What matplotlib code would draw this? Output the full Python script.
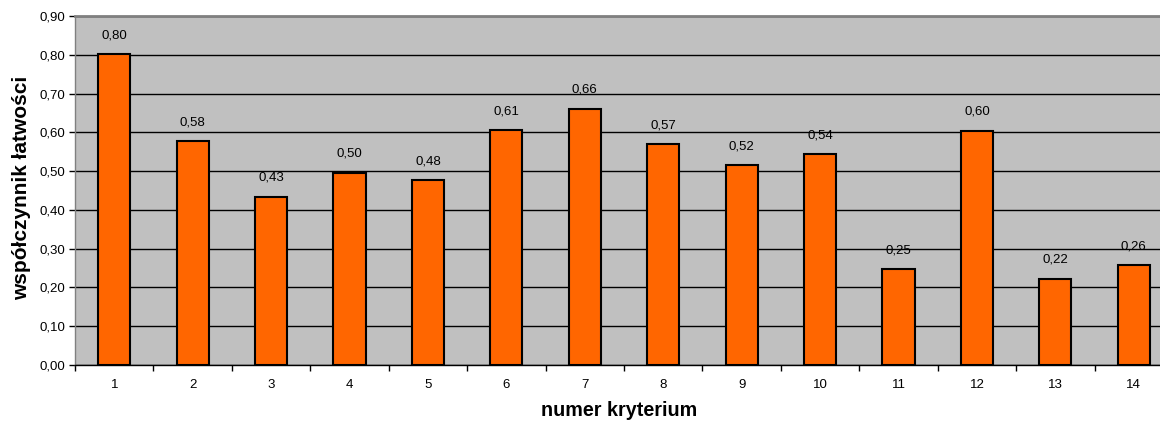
import matplotlib
matplotlib.use("Agg")
import matplotlib.pyplot as plt
from matplotlib.ticker import MultipleLocator, FixedLocator

plt.rcParams['font.family'] = ['Liberation Sans', 'DejaVu Sans']

categories = [str(i) for i in range(1, 15)]
values = [0.802, 0.577, 0.434, 0.496, 0.476, 0.606, 0.661, 0.569, 0.516, 0.544, 0.247, 0.604, 0.223, 0.258]
labels = ["0,80", "0,58", "0,43", "0,50", "0,48", "0,61", "0,66", "0,57", "0,52", "0,54", "0,25", "0,60", "0,22", "0,26"]

W, H = 1160, 421
fig = plt.figure(figsize=(W / 100, H / 100), dpi=100)
left, right, top, bottom = 75, 1173, 16, 365
ax = fig.add_axes([left / W, (H - bottom) / H, (right - left) / W, (bottom - top) / H])
ax.set_facecolor('#C0C0C0')

x = list(range(len(categories)))
bars = ax.bar(x, values, width=0.41, color='#FF6600', edgecolor='black', linewidth=1.5, zorder=3)
for xi, v, lab in zip(x, values, labels):
    ax.text(xi, v + 0.033, lab, ha='center', va='bottom', fontsize=9.5, zorder=4)

ax.set_xlim(-0.5, len(categories) - 0.5)
ax.set_ylim(0, 0.9)
ax.yaxis.set_major_locator(MultipleLocator(0.1))
ax.set_yticklabels([f"{t:.2f}".replace('.', ',') for t in ax.get_yticks()])
ax.set_xticks(x)
ax.set_xticklabels(categories)
ax.xaxis.set_minor_locator(FixedLocator([i + 0.5 for i in range(-1, len(categories))]))
ax.tick_params(axis='x', which='major', length=0, pad=10, labelsize=9.5)
ax.tick_params(axis='x', which='minor', length=4, width=1)
ax.tick_params(axis='y', length=4, width=1, labelsize=9.5, pad=3)
ax.grid(axis='y', color='#000000', linewidth=1, zorder=1)
ax.set_axisbelow(True)

for s in ['top', 'right']:
    ax.spines[s].set_color('#808080')
    ax.spines[s].set_linewidth(2)
ax.spines['left'].set_color('#808080')
ax.spines['left'].set_linewidth(1)
ax.spines['bottom'].set_color('black')
ax.spines['bottom'].set_linewidth(1)

fig.text(22 / W, 1 - 188 / H, 'współczynnik łatwości', rotation=90, ha='center', va='center',
         fontsize=15, fontweight='bold')
fig.text(619.5 / W, 1 - 411 / H, 'numer kryterium', ha='center', va='center',
         fontsize=14.2, fontweight='bold')

fig.savefig('out.png', dpi=100)
